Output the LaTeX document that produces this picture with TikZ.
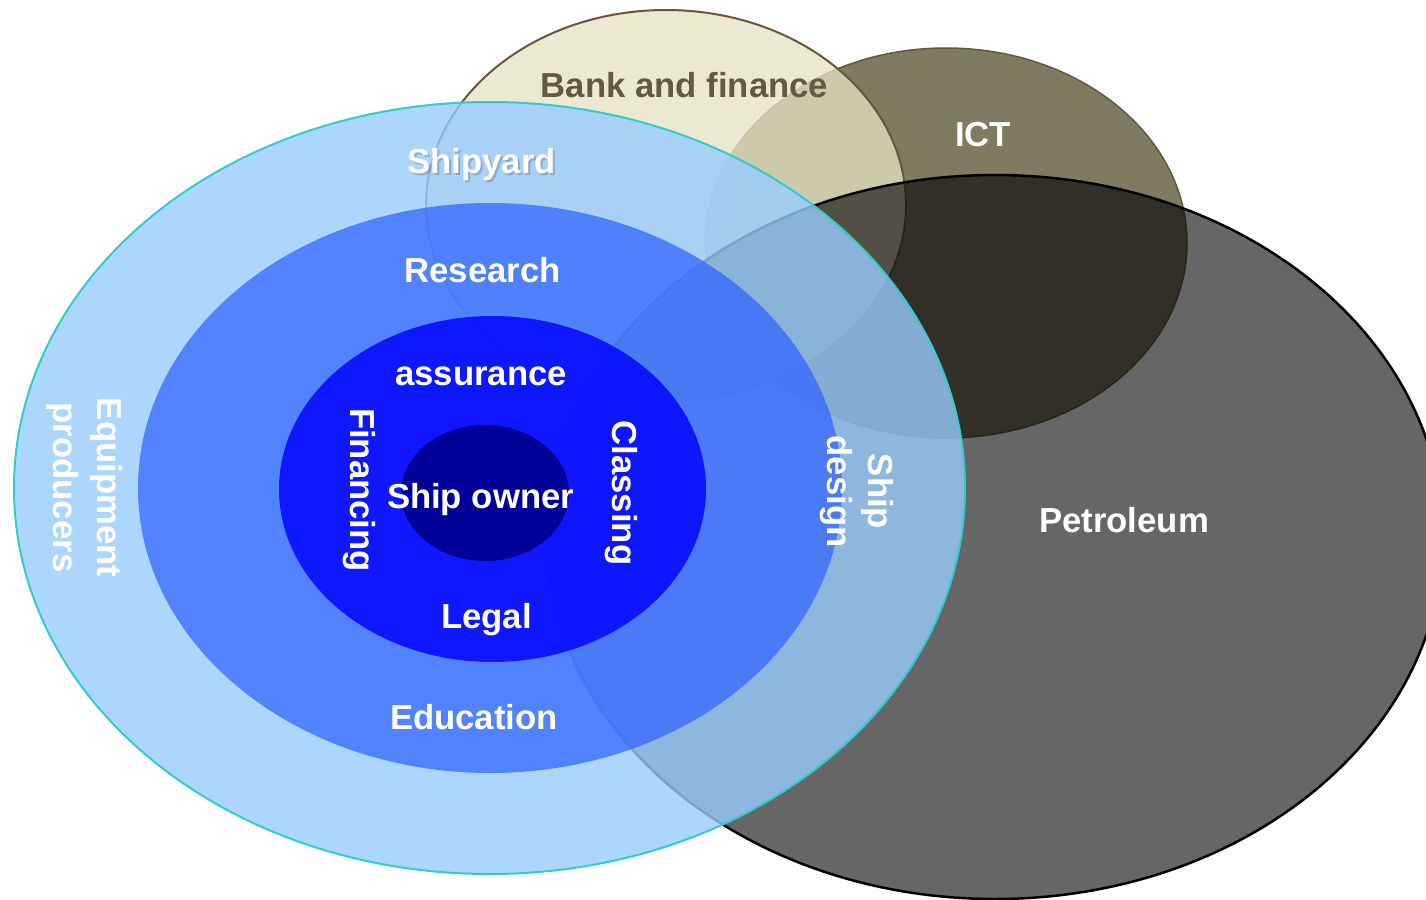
\documentclass[tikz,border=0pt]{standalone}
\usepackage{fontspec}
\setmainfont{Liberation Sans}
\definecolor{ictfill}{RGB}{127,122,96}
\definecolor{ictline}{RGB}{94,90,64}
\definecolor{bankfill}{RGB}{229,227,196}
\definecolor{bankline}{RGB}{107,85,56}
\definecolor{banktext}{RGB}{95,91,69}
\definecolor{lightblue}{RGB}{153,204,255}
\definecolor{cyanline}{RGB}{51,204,204}
\definecolor{midblue}{RGB}{51,102,255}
\definecolor{innerblue}{RGB}{0,0,255}
\definecolor{coreblue}{RGB}{2,2,153}
\begin{document}
\begin{tikzpicture}[x=1pt,y=-1pt,
  ictstyle/.style={fill=ictfill,draw=ictline,line width=1.5pt},
  bankstyle/.style={fill=bankfill,fill opacity=0.77,draw=bankline,draw opacity=1,line width=2pt},
  petrostyle/.style={fill=black,fill opacity=0.6,draw=black,draw opacity=1,line width=2.5pt},
  outerstyle/.style={fill=lightblue,fill opacity=0.8,draw=cyanline,draw opacity=1,line width=2pt},
  midstyle/.style={fill=midblue,fill opacity=0.75,draw=none},
  innerstyle/.style={fill=innerblue,fill opacity=0.82,draw=none},
  corestyle/.style={fill=coreblue,draw=none},
  lbl/.style={text=white,font=\bfseries\fontsize{34.7}{42}\selectfont,inner sep=0pt,anchor=base},
  vlbl/.style={lbl,rotate=-90},
  shadowlbl/.style={lbl,text=black,text opacity=0.18}
]
\useasboundingbox (0,0) rectangle (1426,899);
% ellipses
\draw[ictstyle] (946,243) ellipse [x radius=241pt, y radius=195pt];
\draw[bankstyle] (666,205) ellipse [x radius=240pt, y radius=195pt];
\draw[petrostyle] (995,537) ellipse [x radius=448pt, y radius=362pt];
\draw[outerstyle] (489.5,488) ellipse [x radius=475.5pt, y radius=386pt];
\fill[midstyle] (490,488) ellipse [x radius=352pt, y radius=285pt];
\fill[innerstyle] (492.5,489) ellipse [x radius=213.5pt, y radius=173pt];
\fill[corestyle] (485,493) ellipse [x radius=84pt, y radius=68pt];
% labels
\node[lbl,text=banktext] (bank) at (684.5,97) {Bank and finance};
\node[lbl] (ict) at (983,146) {ICT};
\node[shadowlbl] (shipyardshadow) at (483.5,175) {Shipyard};
\node[lbl] (shipyard) at (481.5,173) {Shipyard};
\node[lbl] (research) at (482.5,282) {Research};
\node[lbl] (assurance) at (481,385) {assurance};
\node[lbl] (owner) at (480.5,508) {Ship owner};
\node[lbl] (legal) at (486.5,628) {Legal};
\node[lbl] (education) at (474,729) {Education};
\node[lbl] (petroleum) at (1124,532) {Petroleum};
\node[vlbl] (financing) at (350,490) {Financing};
\node[vlbl] (classing) at (612,493) {Classing};
\node[vlbl] (ship) at (868,491.5) {Ship};
\node[vlbl] (design) at (827,491.5) {design};
\node[vlbl] (equipment) at (97,487.5) {Equipment};
\node[vlbl] (producers) at (53,487.5) {producers};
\end{tikzpicture}
\end{document}
